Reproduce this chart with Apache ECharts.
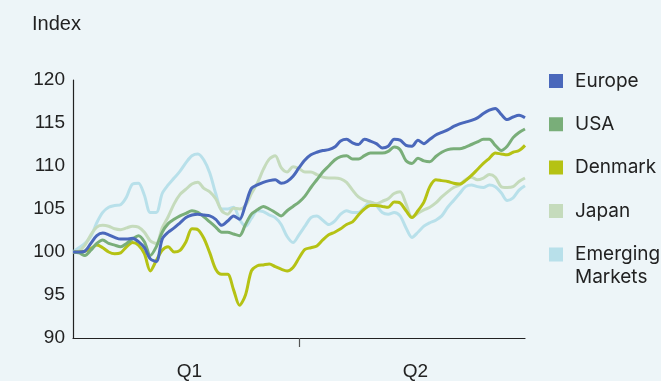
<!DOCTYPE html>
<html>
<head>
<meta charset="utf-8">
<script src="https://cdn.jsdelivr.net/npm/echarts@6/dist/echarts.min.js"></script>
<style>
  html, body { margin: 0; padding: 0; background: #edf5f8; }
  #chart { width: 661px; height: 381px; }
</style>
</head>
<body>
<div id="chart"></div>
<script>
const quarters = ['Q1', 'Q2'];
const yTicks = [90, 95, 100, 105, 110, 115, 120];

const europe = [100.0, 100.0, 100.1, 101.0, 101.9, 102.2, 102.0, 101.7, 101.5, 101.5, 101.6, 101.2, 100.5, 99.2, 98.9, 101.5, 102.3, 102.8, 103.4, 104.0, 104.3, 104.4, 104.3, 104.2, 103.8, 103.1, 103.6, 104.2, 103.8, 105.5, 107.4, 107.8, 108.1, 108.3, 108.4, 108.0, 108.2, 108.8, 109.8, 110.7, 111.3, 111.6, 111.8, 111.9, 112.2, 112.9, 113.1, 112.7, 112.5, 113.1, 112.9, 112.6, 112.1, 112.3, 113.1, 113.0, 112.4, 112.3, 113.0, 112.6, 113.1, 113.6, 113.9, 114.2, 114.6, 114.9, 115.1, 115.3, 115.6, 116.1, 116.5, 116.7, 116.0, 115.4, 115.7, 115.9, 115.6];
const usa = [100.0, 99.9, 99.6, 100.2, 101.0, 101.4, 101.0, 100.8, 100.6, 101.0, 101.5, 101.9, 101.2, 99.6, 100.6, 102.3, 103.3, 103.8, 104.2, 104.5, 104.8, 104.6, 104.1, 103.5, 102.9, 102.3, 102.3, 102.1, 101.9, 103.2, 104.4, 104.9, 105.3, 105.0, 104.6, 104.2, 104.8, 105.3, 105.8, 106.5, 107.5, 108.4, 109.3, 110.0, 110.7, 111.1, 111.2, 110.8, 110.8, 111.2, 111.5, 111.5, 111.5, 111.7, 112.2, 111.9, 110.6, 110.3, 110.9, 110.6, 110.5, 111.1, 111.6, 111.9, 112.0, 112.0, 112.2, 112.5, 112.8, 113.1, 113.1, 112.4, 111.8, 112.3, 113.3, 113.9, 114.3];
const denmark = [100.0, 100.0, 100.1, 100.4, 100.8, 100.5, 100.0, 99.8, 99.9, 100.6, 101.1, 100.8, 99.8, 97.8, 99.0, 100.2, 100.6, 100.0, 100.2, 101.2, 102.7, 102.6, 101.6, 99.9, 98.0, 97.4, 97.4, 95.6, 93.8, 95.0, 97.8, 98.4, 98.5, 98.6, 98.3, 98.0, 97.8, 98.2, 99.3, 100.3, 100.5, 100.7, 101.4, 102.0, 102.3, 102.7, 103.2, 103.5, 104.3, 105.0, 105.4, 105.4, 105.3, 105.2, 105.8, 105.7, 104.8, 104.0, 104.8, 105.8, 107.6, 108.4, 108.3, 108.2, 108.0, 107.9, 108.3, 108.9, 109.6, 110.3, 110.9, 111.5, 111.4, 111.3, 111.6, 111.8, 112.4];
const japan = [100.0, 100.1, 100.8, 102.0, 102.9, 103.1, 103.0, 102.7, 102.6, 102.8, 103.0, 102.9, 102.3, 101.3, 101.0, 102.8, 104.1, 105.6, 106.7, 107.3, 107.9, 108.1, 107.4, 107.0, 106.2, 104.8, 104.4, 105.1, 105.0, 105.4, 106.8, 108.0, 109.6, 110.8, 111.2, 109.8, 109.3, 109.9, 109.7, 109.3, 109.3, 109.0, 108.7, 108.6, 108.6, 108.5, 108.1, 107.2, 106.4, 106.0, 105.8, 105.6, 105.9, 106.2, 106.8, 107.0, 105.6, 104.0, 104.5, 104.9, 105.2, 105.7, 106.4, 107.0, 107.5, 107.8, 108.4, 108.7, 108.4, 108.6, 109.0, 108.7, 107.6, 107.5, 107.6, 108.2, 108.6];
const emerging = [100.0, 100.5, 101.0, 101.8, 103.4, 104.6, 105.2, 105.4, 105.5, 106.4, 107.9, 108.0, 106.6, 104.6, 104.6, 106.8, 107.8, 108.6, 109.4, 110.4, 111.2, 111.4, 110.7, 109.2, 106.8, 105.0, 105.0, 105.2, 103.8, 103.0, 103.9, 104.8, 104.7, 104.3, 104.0, 103.2, 101.8, 101.1, 102.0, 103.0, 104.0, 104.2, 103.7, 103.2, 103.6, 104.4, 104.8, 104.6, 104.6, 105.2, 105.8, 105.4, 104.6, 104.4, 104.6, 104.2, 102.8, 101.7, 102.3, 103.0, 103.4, 103.7, 104.2, 105.2, 106.0, 106.8, 107.6, 107.8, 107.6, 107.5, 107.8, 107.6, 106.9, 106.0, 106.3, 107.2, 107.7];

// one category per sampled trading period
const periods = europe.map((v, i) => 'P' + (i + 1));
const midIndex = Math.floor((periods.length - 1) / 2);

const chart = echarts.init(document.getElementById('chart'), null, {renderer: 'canvas'});
const textColor = '#222';
const font = 'Liberation Sans, Arial, sans-serif';
// square marker with a blank strip on its right, so the text sits further off
const legendIcon = 'path://M0,0L14,0L14,14L0,14Z M20.9,13.9L21,13.9L21,14L20.9,14Z';
// same square, but the box is taller so a two-line label starts level with it
const legendIconTall = 'path://M0,0L14,0L14,14L0,14Z M20.9,36.9L21,36.9L21,37L20.9,37Z';

function line(name, data, color) {
    return {
        name: name,
        type: 'line',
        data: data,
        xAxisIndex: 0,
        showSymbol: false,
        smooth: 0.3,
        lineStyle: {width: 3, color: color},
        itemStyle: {color: color}
    };
}

const option = {
    backgroundColor: '#edf5f8',
    animation: false,
    title: {
        text: 'Index',
        left: 32,
        top: 14,
        padding: 0,
        textStyle: {fontSize: 20, fontWeight: 'normal', color: textColor, fontFamily: font}
    },
    grid: {left: 73, right: 136, top: 80, bottom: 38},
    legend: [
        {
            data: ['Europe', 'USA', 'Denmark', 'Japan'],
            orient: 'vertical',
            left: 549,
            top: 71,
            padding: 0,
            itemWidth: 21,
            itemHeight: 14,
            itemGap: 23.3,
            icon: legendIcon,
            textStyle: {fontSize: 19, lineHeight: 20, color: textColor, fontFamily: 'Inter, sans-serif'}
        },
        {
            data: ['Emerging\nMarkets'],
            orient: 'vertical',
            left: 549,
            top: 243,
            padding: 0,
            itemWidth: 21,
            itemHeight: 37,
            icon: legendIconTall,
            textStyle: {fontSize: 19, lineHeight: 23, color: textColor, fontFamily: 'Inter, sans-serif'}
        }
    ],
    xAxis: [
        {
            type: 'category',
            data: periods,
            boundaryGap: false,
            axisLine: {lineStyle: {color: '#222', width: 1.2}},
            axisTick: {
                show: true,
                length: 9,
                interval: function (index) { return index === midIndex; },
                lineStyle: {color: '#555', width: 1.2}
            },
            axisLabel: {show: false},
            splitLine: {show: false}
        },
        {
            type: 'category',
            data: quarters,
            position: 'bottom',
            boundaryGap: true,
            axisLine: {show: false},
            axisTick: {show: false},
            axisLabel: {margin: 24, fontSize: 19, color: textColor, fontFamily: font, padding: [0, 0, 0, 7]},
            splitLine: {show: false}
        }
    ],
    yAxis: {
        type: 'value',
        min: yTicks[0],
        max: yTicks[yTicks.length - 1],
        interval: yTicks[1] - yTicks[0],
        axisLine: {show: true, lineStyle: {color: '#222', width: 1.2}},
        axisTick: {show: false},
        splitLine: {show: false},
        axisLabel: {margin: 8, fontSize: 19, color: textColor, fontFamily: font}
    },
    series: [
        line('Emerging\nMarkets', emerging, '#b8e0ea'),
        line('Japan', japan, '#c5dbbc'),
        line('Denmark', denmark, '#b5c214'),
        line('USA', usa, '#79ae79'),
        line('Europe', europe, '#4a68bb')
    ]
};
chart.setOption(option);
</script>
</body>
</html>
